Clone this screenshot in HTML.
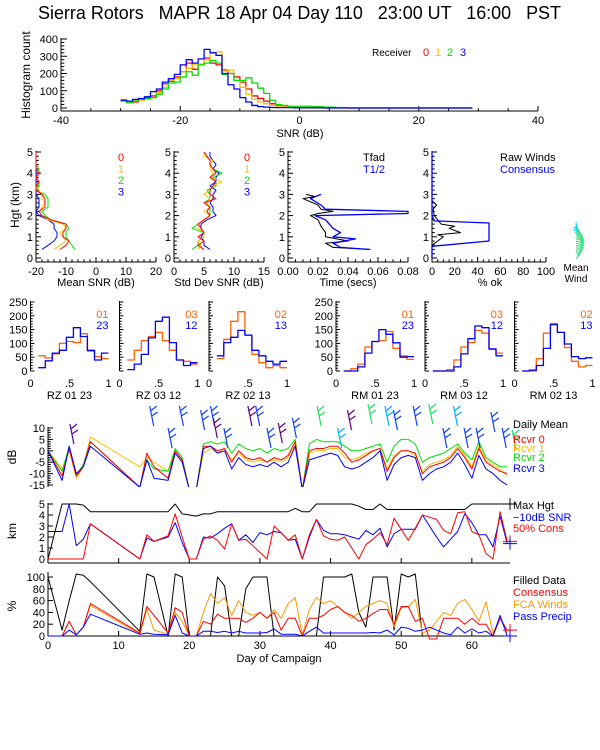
<!DOCTYPE html>
<html><head><meta charset="utf-8"><style>
html,body{margin:0;padding:0;background:#fff;}
svg{display:block;font-family:"Liberation Sans",sans-serif;}
</style></head><body>
<svg id="chart" xmlns="http://www.w3.org/2000/svg" width="600" height="750" viewBox="0 0 600 750">
<rect x="0" y="0" width="600" height="750" fill="#fff"/>
<text x="38" y="19" font-size="18" textLength="523" lengthAdjust="spacingAndGlyphs" xml:space="preserve">Sierra Rotors   MAPR 18 Apr 04 Day 110   23:00 UT   16:00   PST</text>
<defs><clipPath id="clipDb"><rect x="48" y="400" width="470" height="87"/></clipPath></defs>
</svg>
<script>
// ---------- top histogram data ----------
const snrBinLo=[-30,-29,-28,-27,-26,-25,-24,-23,-22,-21,-20,-19,-18,-17,-16,-15,-14,-13,-12,-11,-10,-9,-8,-7,-6,-5,-4,-3,-2,-1,0,1,2,3,4,5,6,7,8];
const snrR0=[45,40,35,50,60,70,100,140,155,180,210,260,225,250,290,260,250,220,200,180,150,110,70,55,40,25,15,10,8,5,5,5,5,3,3,2,2,1,0];
const snrR1=[50,40,45,45,50,60,90,120,160,170,210,230,250,255,280,320,325,215,220,160,120,80,50,35,25,15,10,10,8,10,5,5,3,2,3,2,2,1,0];
const snrR2=[40,30,40,50,55,60,80,110,145,150,180,210,190,250,260,275,260,195,200,160,160,175,145,115,85,45,20,15,10,8,10,10,8,8,5,5,3,2,0];
const snrR3=[45,40,50,55,65,95,110,150,170,195,250,280,260,285,340,320,305,200,135,110,60,35,15,8,5,3,2,2,2,1,1,1,1,1,0,0,0,0,0];
const histXTicks=['-40','-20','0','20','40'];
const histYTicks=['0','100','200','300','400'];
// ---------- profile data ----------
const profH=[0.4,0.6,0.8,1.0,1.2,1.4,1.6,1.8,2.0,2.2,2.4,2.6,2.8,3.0,3.2,3.4,3.6,3.8,4.0,4.2,4.4,4.6,4.8,5.0];
const meanR0=[-12,-10,-9,-11,-11,-10,-10,-15,-18,-19,-17,-17,-17,-18,-20,-20,-19,-20,-19,-20,-20,-20,-20,-20];
const meanR1=[-14,-12,-10,-11,-12,-10,-11,-16,-18,-19,-18,-17,-18,-18,-19,-20,-19,-20,-19,-20,-20,-20,-20,-20];
const meanR2=[-7,-8,-9,-10,-10,-9,-10,-15,-17,-18,-16,-16,-16,-17,-20,-19,-19,-20,-19,-19,-20,-20,-20,-20];
const meanR3=[-18,-16,-14,-13,-13,-14,-14,-16,-19,-20,-19,-19,-19,-20,-20,-20,-20,-20,-20,-20,-20,-20,-20,-20];
const sdR0=[5,4,5,4,5,4.5,4,5,6,5.5,6,5,7,6,6,6.5,7,6,7,6.5,6,6,5.5,5];
const sdR1=[4,4.5,4,5,5,4,4,5,6,5,6,5.5,6,5,6,6.5,8,6,6.5,6,6,6.5,5,5];
const sdR2=[3,4,4,5,5,3,4,5,6,6,6,5,6,6,5.5,7,7,6.5,8,6.5,6,6,5.5,5];
const sdR3=[6,5,5,4.5,5,4.5,4.5,5.5,7,6.5,6.5,6,6.5,6.5,7,6,7,7,7.5,6.5,7,6.5,6,6];
const tfadH=[0.4,0.5,0.7,0.8,1.0,1.2,1.5,1.8,2.0,2.1,2.2,2.3,2.5,2.8,2.9,3.0];
const tfadV=[0.055,0.03,0.025,0.04,0.025,0.025,0.022,0.02,0.015,0.02,0.03,0.022,0.02,0.01,0.018,0.012];
const thalfH=[0.4,0.5,0.7,0.9,1.0,1.2,1.4,1.8,2.0,2.1,2.2,2.3,2.5,2.8,3.0];
const thalfV=[0.055,0.035,0.03,0.045,0.03,0.035,0.03,0.025,0.018,0.08,0.08,0.025,0.022,0.015,0.022];
const rawH=[0.5,0.6,0.8,1.0,1.1,1.2,1.4,1.5,1.6,1.8,2.0,2.3,2.5,2.7,5.0];
const rawV=[0,0,5,10,5,25,15,20,8,5,2,1,4,0,0];
const consH=[0,0.55,0.8,1.65,1.75,2.0,5.0];
const consV=[0,0,50,50,2,0,0];
const profYTicks=['0','1','2','3','4','5'];
const meanXTicks=['-20','-10','0','10','20'];
const sdXTicks=['0','5','10','15'];
const timeXTicks=['0.00','0.02','0.04','0.06','0.08'];
const pctXTicks=['0','20','40','60','80','100'];
// ---------- correlation histograms ----------
const rhoBinLo=[0.10,0.19,0.28,0.37,0.46,0.55,0.64,0.73,0.82,0.91];
const rhoA=[[55,47,62,100,107,103,135,72,52,45],[40,75,110,125,140,110,75,40,35,25],[45,115,180,215,130,60,30,12,20,12],[0,8,25,87,107,110,143,82,55,42],[0,0,5,40,87,103,147,137,78,65],[0,0,45,137,172,140,85,35,15,20]];
const rhoB=[[12,37,65,75,122,157,125,75,40,65],[5,25,60,120,180,195,103,40,20,30],[55,103,122,147,130,75,55,35,25,35],[0,0,15,65,107,150,133,102,50,52],[0,0,0,15,62,117,163,157,80,55],[0,3,20,82,168,140,98,52,45,48]];
const rhoTitles=['RZ  01 23','RZ  03 12','RZ  02 13','RM  01 23','RM  03 12','RM  02 13'];
const rhoLegA=['01','03','02','01','03','02'];
const rhoLegB=['23','12','13','23','12','13'];
const rhoYTicks=['0','50','100','150','200','250'];
const rhoXTicks=['0','.5','1'];
// ---------- time series ----------
const days=[0,2,3,4,5,6,13,14,15,17,18,19,20,21,22,23,24,25,26,27,28,29,30,31,32,33,34,35,36,37,38,39,40,41,42,43,44,45,46,47,48,49,50,51,52,53,54,55,56,57,58,59,60,61,62,63,64,65];
const dbR0=[null,-11,1,-11,-7,4,-16,-1,-7,-12,0,-4,-17,-17,2,2,0,1,-5,0,-3,-4,-3,-5,-3,-4,-2,4,-17,0,1,1,2,2,-1,-5,-4,-2,0,1,-9,-3,0,0,-1,-10,-7,-6,-5,-3,1,-3,-8,1,-5,-7,-9,-10];
const dbR1=[null,-8,0,-12,-7,6,-7,-3,-5,-9,-1,-5,-17,-17,-1,1,-1,1,-4,-1,-4,-5,-4,-5,-4,-5,-3,3,-17,-1,0,0,1,1,-3,-4,-3,-1,0,1,-8,-2,0,0,-2,-9,-6,-5,-4,-2,2,-2,-7,2,-4,-6,-8,-11];
const dbR2=[null,-9,2,-11,-6,4,-16,-4,-8,-9,1,-3,-17,-17,3,4,3,4,-1,3,1,0,1,-1,1,0,1,5,-17,3,5,4,4,4,2,0,0,1,2,3,-5,2,5,5,3,-5,-3,-2,-1,1,3,-1,-4,4,-3,-5,-7,-7];
const dbR3=[null,-13,2,-10,-7,2,-16,-4,-12,-13,-1,-5,-17,-17,1,2,-1,0,-8,-3,-6,-7,-6,-7,-5,-7,-5,2,-17,-4,-3,-2,-1,-2,-7,-8,-7,-5,-3,0,-13,-6,-3,-2,-3,-13,-10,-8,-7,-5,-1,-6,-12,-2,-8,-10,-13,-15];
const kmMax=[null,5,5,5,4.9,4.3,4.3,4.3,4.3,4.3,5,4.1,4.0,3.9,4.1,4.1,4.3,4.3,4.3,4.3,4.3,4.3,4.3,4.3,4.3,4.3,4.3,4.6,4.3,4.3,5,5,5,5,5,5,4.8,4.5,4.5,5,4.5,4.5,4.5,4.5,4.5,4.5,4.5,4.5,4.5,4.5,4.5,4.5,5,5,5,5,5,5];
const kmSnr=[2.5,2.5,5,1.2,1.8,3.2,0,1.9,1.6,2,3.3,1.5,0,0,2,1.9,2.3,2.8,3.2,1.7,2.2,1.5,2.4,2.2,2.5,2.4,1.7,1.8,0,2,3.6,2.6,2.3,2.3,2.2,2.0,1.8,2.6,2.2,2.8,1.1,2.3,2.7,2.7,2.7,4.0,3.0,2.0,1.1,1.8,2.5,4.1,3.3,2.2,2.2,1.1,3.9,1.4];
const kmCons=[0,0,0,0,0,3.2,0,2.2,1.6,2.1,4.1,2,0,0,1.8,2.1,1.7,0.9,3.2,1.7,1.8,1.2,0.6,0,3,2.4,1.7,2.2,0,2.2,3.6,2.1,1.8,1.7,2,1,0,1.3,1.8,2.4,1.3,3.7,2.7,1.7,2.8,4,3.8,3.6,2.6,2.3,4.2,4.3,2.5,2.2,0.5,0,4.3,1.6];
const pctFilled=[100,10,60,105,103,92,8,105,100,0,105,100,0,0,0,0,100,85,0,0,80,100,100,100,0,0,0,0,0,0,0,100,100,100,100,105,40,15,100,100,100,10,105,100,105,0,0,0,0,0,0,0,0,0,0,0,0,0];
const pctCons=[0,0,25,2,15,55,5,50,35,5,48,40,0,0,25,20,37,30,30,30,23,30,40,30,40,10,30,30,0,30,30,35,45,50,40,35,25,30,38,45,45,20,50,50,25,30,-5,-5,30,30,30,20,30,20,20,0,30,10];
const pctFca=[0,0,25,2,15,52,3,45,10,3,40,25,0,0,40,72,55,65,35,60,40,35,40,30,45,30,55,65,2,45,65,55,60,50,40,30,40,50,55,60,55,15,48,50,62,5,10,25,40,35,55,62,45,25,58,5,30,5];
const pctPrecip=[0,0,10,2,15,37,3,5,3,2,35,5,0,0,8,8,6,8,5,8,5,5,5,6,12,3,3,3,0,8,15,5,5,5,5,5,5,5,6,5,10,2,15,13,8,10,15,10,5,2,15,5,12,5,8,0,35,0];
const dayTicks=['0','10','20','30','40','50','60'];
const dbTicks=['-15','-10','-5','0','5','10'];
const kmTicks=['0','1','2','3','4','5'];
const pctTicks=['0','20','40','60','80','100'];
// wind barbs (day, top y of staff, colour index)
const barbDay=[3.1,14.4,17.0,18.6,21.6,23.0,24.9,23.4,28.3,29.4,31.0,32.6,34.6,38.1,41.0,42.4,45.3,47.7,48.9,51.7,53.9,55.9,57.4,58.9,60.6,62.7,64.3,65.7];
const barbTop=[424,406,428,406,410,406,428,418,406,406,428,423,418,406,428,410,404,406,410,406,404,428,406,428,428,412,428,430];
const barbClr=[2,0,0,0,0,0,0,1,1,0,0,1,0,3,4,1,3,4,0,0,3,0,4,0,0,0,0,3];
const windMeanH=[0.3,0.4,0.5,0.6,0.7,0.8,0.9,1.0,1.1,1.2,1.3,1.4,1.5,1.6,1.7];
const windMeanAng=[20,30,40,50,55,60,60,55,50,45,35,25,15,8,3];
</script>
<script>
const NS="http://www.w3.org/2000/svg";
const svg=document.getElementById('chart');
function el(tag,parent){const e=document.createElementNS(NS,tag);(parent||svg).appendChild(e);return e;}
function grp(){return el('g');}
function txt(g,x,y,s,color,size,anchor){
  const t=el('text',g);
  t.setAttribute('x',x);t.setAttribute('y',y);
  t.setAttribute('fill',color||'#000');t.setAttribute('font-size',size||11);
  t.setAttribute('text-anchor',anchor||'start');t.textContent=s;return t;}
function seg(g,x1,y1,x2,y2,color,w){
  const l=el('line',g);
  l.setAttribute('x1',x1);l.setAttribute('y1',y1);l.setAttribute('x2',x2);l.setAttribute('y2',y2);
  l.setAttribute('stroke',color||'#000');l.setAttribute('stroke-width',w||1);return l;}
function pathD(g,d,color,w){
  const p=el('path',g);
  p.setAttribute('d',d);p.setAttribute('fill','none');p.setAttribute('stroke',color);
  p.setAttribute('stroke-width',w||1);p.setAttribute('stroke-linejoin','round');return p;}
function polyD(xs,ys){let d='',pen=false;
  for(let i=0;i<xs.length;i++){if(xs[i]==null||ys[i]==null||isNaN(xs[i])||isNaN(ys[i])){pen=false;continue;}
    d+=(pen?'L':'M')+xs[i].toFixed(1)+' '+ys[i].toFixed(1)+' ';pen=true;}return d;}
function lin(d0,d1,r0,r1){return v=>r0+(v-d0)*(r1-r0)/(d1-d0);}
function isMaj(v,lo,major){const q=(v-lo)/major;return Math.abs(q-Math.round(q))<1e-6;}
function yAxis(g,x,sc,lo,hi,major,minor,labels,len){
  seg(g,x,sc(lo),x,sc(hi)-1);
  const n=Math.round((hi-lo)/minor);
  for(let i=0;i<=n;i++){const v=lo+i*minor;const m=isMaj(v,lo,major);
    seg(g,x,sc(v),x+(m?len:len*0.55),sc(v));}
  if(labels){for(let i=0;i<labels.length;i++){const v=lo+i*major;
    const t=txt(g,x-3,sc(v)+4,labels[i],'#000',11,'end');
    
    }}}
function xAxis(g,y,sc,lo,hi,major,minor,labels,len,line){
  if(line!==false)seg(g,sc(lo),y,sc(hi),y);
  const n=Math.round((hi-lo)/minor);
  for(let i=0;i<=n;i++){const v=lo+i*minor;const m=isMaj(v,lo,major);
    seg(g,sc(v),y,sc(v),y-(m?len:len*0.55));}
  if(labels){for(let i=0;i<labels.length;i++){const v=lo+i*major;
    const t=txt(g,sc(v),y+13,labels[i],'#000',11,'middle');
    
    }}}
function vlabel(g,x,y,s){const t=txt(g,x,y,s,'#000',12,'middle');t.setAttribute('transform','rotate(-90 '+x+' '+y+')');return t;}

const RED='#ff0000',ORG='#ffbf00',GRN='#00e000',BLU='#0000ff';

// ===== Top histogram =====
(function(){
  const g=grp();
  
  
  const xs=lin(-40,40,61,538), ys=lin(0,400,108,39);
  yAxis(g,61,ys,0,400,100,20,histYTicks,6);
  seg(g,61,111,538,111);
  xAxis(g,111,xs,-40,40,20,5,null,5,false);
  for(let i=0;i<histXTicks.length;i++){const t=txt(g,xs(-40+i*20),124,histXTicks[i],'#000',11,'middle');
    
    }
  const xt=txt(g,300,137,'SNR (dB)','#000',11,'middle');
  
  
  const yt=vlabel(g,30,75,'Histogram count');
  
  
  const series=[snrR0,snrR1,snrR2,snrR3], cols=[RED,ORG,GRN,BLU];
  for(let s=0;s<4;s++){let d='';const c=series[s];
    for(let i=0;i<snrBinLo.length;i++){d+=(i==0?'M':'L')+xs(snrBinLo[i])+' '+ys(c[i])+' L'+xs(snrBinLo[i]+1)+' '+ys(c[i])+' ';}
    d+='L'+xs(29)+' '+ys(0);
    const p=pathD(g,d,cols[s],1.3);
    
    }
  const lg=txt(g,372,56,'Receiver','#000',10);
  
  
  const lx=[426,438,450,463];
  for(let s=0;s<4;s++){const t=txt(g,lx[s],56,String(s),cols[s],11,'middle');
    
    }
})();

// ===== Profile panels =====
const yP=lin(0,5,258,152);
function profPanel(name,x0,sc,lo,hi,major,minor,labels,title,tx){
  const g=grp();
  
  
  yAxis(g,x0,yP,0,5,1,0.2,profYTicks,5);
  xAxis(g,262,sc,lo,hi,major,minor,labels,5);
  seg(g,x0,262,x0,yP(0));
  const t=txt(g,tx,286,title,'#000',11,'middle');
  
  
  return g;}
(function(){
  const sc=lin(-20,20,36,156);
  const g=profPanel('mean-snr-panel',36,sc,-20,20,10,2,meanXTicks,'Mean SNR (dB)',96);
  const yt=vlabel(g,19,205,'Hgt (km)');
  
  
  const S=[meanR0,meanR1,meanR2,meanR3],C=[RED,ORG,GRN,BLU];
  for(let s=3;s>=0;s--){const p=pathD(g,polyD(S[s].map(sc),profH.map(yP)),C[s]);
    
    }
  for(let s=0;s<4;s++){const t=txt(g,121,161+s*11.5,String(s),C[s],11,'middle');
    
    }
})();
(function(){
  const sc=lin(0,15,174,264);
  const g=profPanel('std-snr-panel',174,sc,0,15,5,1,sdXTicks,'Std Dev SNR (dB)',219);
  const S=[sdR0,sdR1,sdR2,sdR3],C=[RED,ORG,GRN,BLU];
  for(let s=3;s>=0;s--){const p=pathD(g,polyD(S[s].map(sc),profH.map(yP)),C[s]);
    
    }
  for(let s=0;s<4;s++){const t=txt(g,247,161+s*11.5,String(s),C[s],11,'middle');
    
    }
})();
(function(){
  const sc=lin(0,0.08,288,408);
  const g=profPanel('time-panel',288,sc,0,0.08,0.02,0.005,timeXTicks,'Time (secs)',348);
  const p1=pathD(g,polyD(tfadV.map(sc),tfadH.map(yP)),'#000');
  
  
  const p2=pathD(g,polyD(thalfV.map(sc),thalfH.map(yP)),BLU,1.3);
  
  
  const a=txt(g,363,161,'Tfad','#000',11);
  
  
  const b=txt(g,363,173,'T1/2',BLU,11);
  
  
})();
(function(){
  const sc=lin(0,100,432,546);
  const g=profPanel('percent-ok-panel',432,sc,0,100,20,5,pctXTicks,'% ok',490);
  const p1=pathD(g,polyD(rawV.map(sc),rawH.map(yP)),'#000');
  
  
  const p2=pathD(g,polyD(consV.map(sc),consH.map(yP)),BLU,1.3);
  
  
  const a=txt(g,500,161,'Raw Winds','#000',11);
  
  
  const b=txt(g,500,173,'Consensus',BLU,11);
  
  
  // mean wind
  for(let i=0;i<windMeanH.length;i++){const y=yP(windMeanH[i]),a2=windMeanAng[i]*Math.PI/180;
    const x2=576+Math.sin(a2)*9,y2=y+Math.cos(a2)*4;
    const l=pathD(g,'M576 '+y.toFixed(1)+' L'+x2.toFixed(1)+' '+y2.toFixed(1)+' L'+(x2-3).toFixed(1)+' '+(y2+3).toFixed(1),i>11?'#00c8ff':'#20e070');
    
    }
  const m1=txt(g,576,271,'Mean','#000',10,'middle');
  
  
  const m2=txt(g,576,282,'Wind','#000',10,'middle');
  
  
})();

// ===== Correlation histograms =====
const rhoX0=[30.5,119.5,209,336,425,514.5];
const yRho=lin(0,250,371,302);
for(let p=0;p<6;p++){
  const g=grp();
  
  
  const x0=rhoX0[p], sc=lin(0,1,x0,x0+78);
  yAxis(g,x0,yRho,0,250,50,10,(p==0||p==3)?rhoYTicks:null,4);
  for(let i=0;i<3;i++){const t=txt(g,sc(i*0.5),387,rhoXTicks[i],'#000',11,'middle');
    
    }
  const tt=txt(g,x0+39,399,rhoTitles[p],'#000',11,'middle');
  
  
  const sets=[rhoA[p],rhoB[p]],cols=['#ff6000',BLU];
  for(let s=0;s<2;s++){let d='';
    for(let i=0;i<rhoBinLo.length;i++){d+=(i==0?'M':'L')+sc(rhoBinLo[i]).toFixed(1)+' '+yRho(sets[s][i]).toFixed(1)+' L'+sc(rhoBinLo[i]+0.09).toFixed(1)+' '+yRho(sets[s][i]).toFixed(1)+' ';}
    const ph=pathD(g,d,cols[s],1.3);
    
    }
  const la=txt(g,x0+78,318,rhoLegA[p],'#ff6000',11,'end');
  
  
  const lb=txt(g,x0+78,329,rhoLegB[p],BLU,11,'end');
  
  
}

// ===== Time series =====
const xD=lin(0,65.4,48,510);
// dB panel
(function(){
  const g=grp();
  
  
  const ys=lin(-15,10,485,428);
  yAxis(g,48,ys,-15,10,5,1,dbTicks,5);
  seg(g,48,485,48,487);
  const yt=vlabel(g,16,457,'dB');
  
  
  const cg=el('g',g);cg.setAttribute('clip-path','url(#clipDb)');
  const S=[dbR1,dbR2,dbR0,dbR3],C=[ORG,GRN,RED,BLU],N=[1,2,0,3];
  for(let s=0;s<4;s++){const p=pathD(cg,polyD(days.map(xD),S[s].map(ys)),C[s]);
    
    }
  const bc=['#1040ff','#600080','#6000a0','#20e060','#00b0ff'];
  for(let i=0;i<barbDay.length;i++){const x=xD(barbDay[i]),y=barbTop[i];
    const b=pathD(g,'M'+x.toFixed(1)+' '+y+' L'+(x+4).toFixed(1)+' '+(y+20)+' M'+(x+1).toFixed(1)+' '+(y+5)+' l6 -5 M'+(x+2).toFixed(1)+' '+(y+10)+' l6 -4',bc[barbClr[i]],1.2);
    
    }
  const lab=['Daily Mean','Rcvr 0','Rcvr 1','Rcvr 2','Rcvr 3'],lc=['#000',RED,ORG,GRN,BLU],ly=[428,443,452,461,472];
  for(let i=0;i<5;i++){const t=txt(g,513,ly[i],lab[i],lc[i],11);
    
    }
})();
// km panel
(function(){
  const g=grp();
  
  
  const ys=lin(0,5,559,504);
  yAxis(g,48,ys,0,5,1,1,kmTicks,5);
  seg(g,48,559,48,563);
  xAxis(g,563,xD,0,60,10,10,null,5);
  seg(g,xD(60),563,510,563);
  const yt=vlabel(g,16,531,'km');
  
  
  const p1=pathD(g,polyD(days.map(xD),kmMax.map(ys)),'#000');
  
  
  const p2=pathD(g,polyD(days.map(xD),kmSnr.map(ys)),BLU);
  
  
  const p3=pathD(g,polyD(days.map(xD),kmCons.map(ys)),RED);
  
  
  const mk=[[kmMax[kmMax.length-1],'#000'],[kmCons[kmCons.length-1],RED],[kmSnr[kmSnr.length-1],BLU]];
  for(let i=0;i<3;i++){const y=ys(mk[i][0]);
    const m=pathD(g,'M503 '+y+' L517 '+y+' M510 '+(y-6)+' L510 '+(y+6),mk[i][1]);
    
    }
  const lab=['Max Hgt','\u221210dB SNR','50% Cons'],lc=['#000',BLU,RED],ly=[509,521,532];
  for(let i=0;i<3;i++){const t=txt(g,513,ly[i],lab[i],lc[i],11);
    
    }
})();
// percent panel
(function(){
  const g=grp();
  
  
  const ys=lin(0,100,636,577);
  yAxis(g,48,ys,0,100,20,20,pctTicks,5);
  seg(g,48,ys(100),48,572);
  xAxis(g,636,xD,0,60,10,10,dayTicks,5);
  seg(g,xD(60),636,510,636);
  const xt=txt(g,279,662,'Day of Campaign','#000',11,'middle');
  
  
  const yt=vlabel(g,16,606,'%');
  
  
  const S=[pctFilled,pctFca,pctCons,pctPrecip],C=['#000','#ff9900',RED,BLU],N=['filled-data-line','fca-winds-line','consensus-line','pass-precip-line'];
  for(let s=0;s<4;s++){const p=pathD(g,polyD(days.map(xD),S[s].map(ys)),C[s]);
    
    }
  const mk=[[pctCons[pctCons.length-1],RED],[pctPrecip[pctPrecip.length-1],BLU]];
  for(let i=0;i<2;i++){const y=ys(mk[i][0]);
    const m=pathD(g,'M503 '+y+' L517 '+y+' M510 '+(y-6)+' L510 '+(y+6),mk[i][1]);
    
    }
  const lab=['Filled Data','Consensus','FCA Winds','Pass Precip'],lc=['#000',RED,'#ff9900',BLU],ly=[584,596,608,620];
  for(let i=0;i<4;i++){const t=txt(g,513,ly[i],lab[i],lc[i],11);
    
    }
})();
</script>
</body></html>
